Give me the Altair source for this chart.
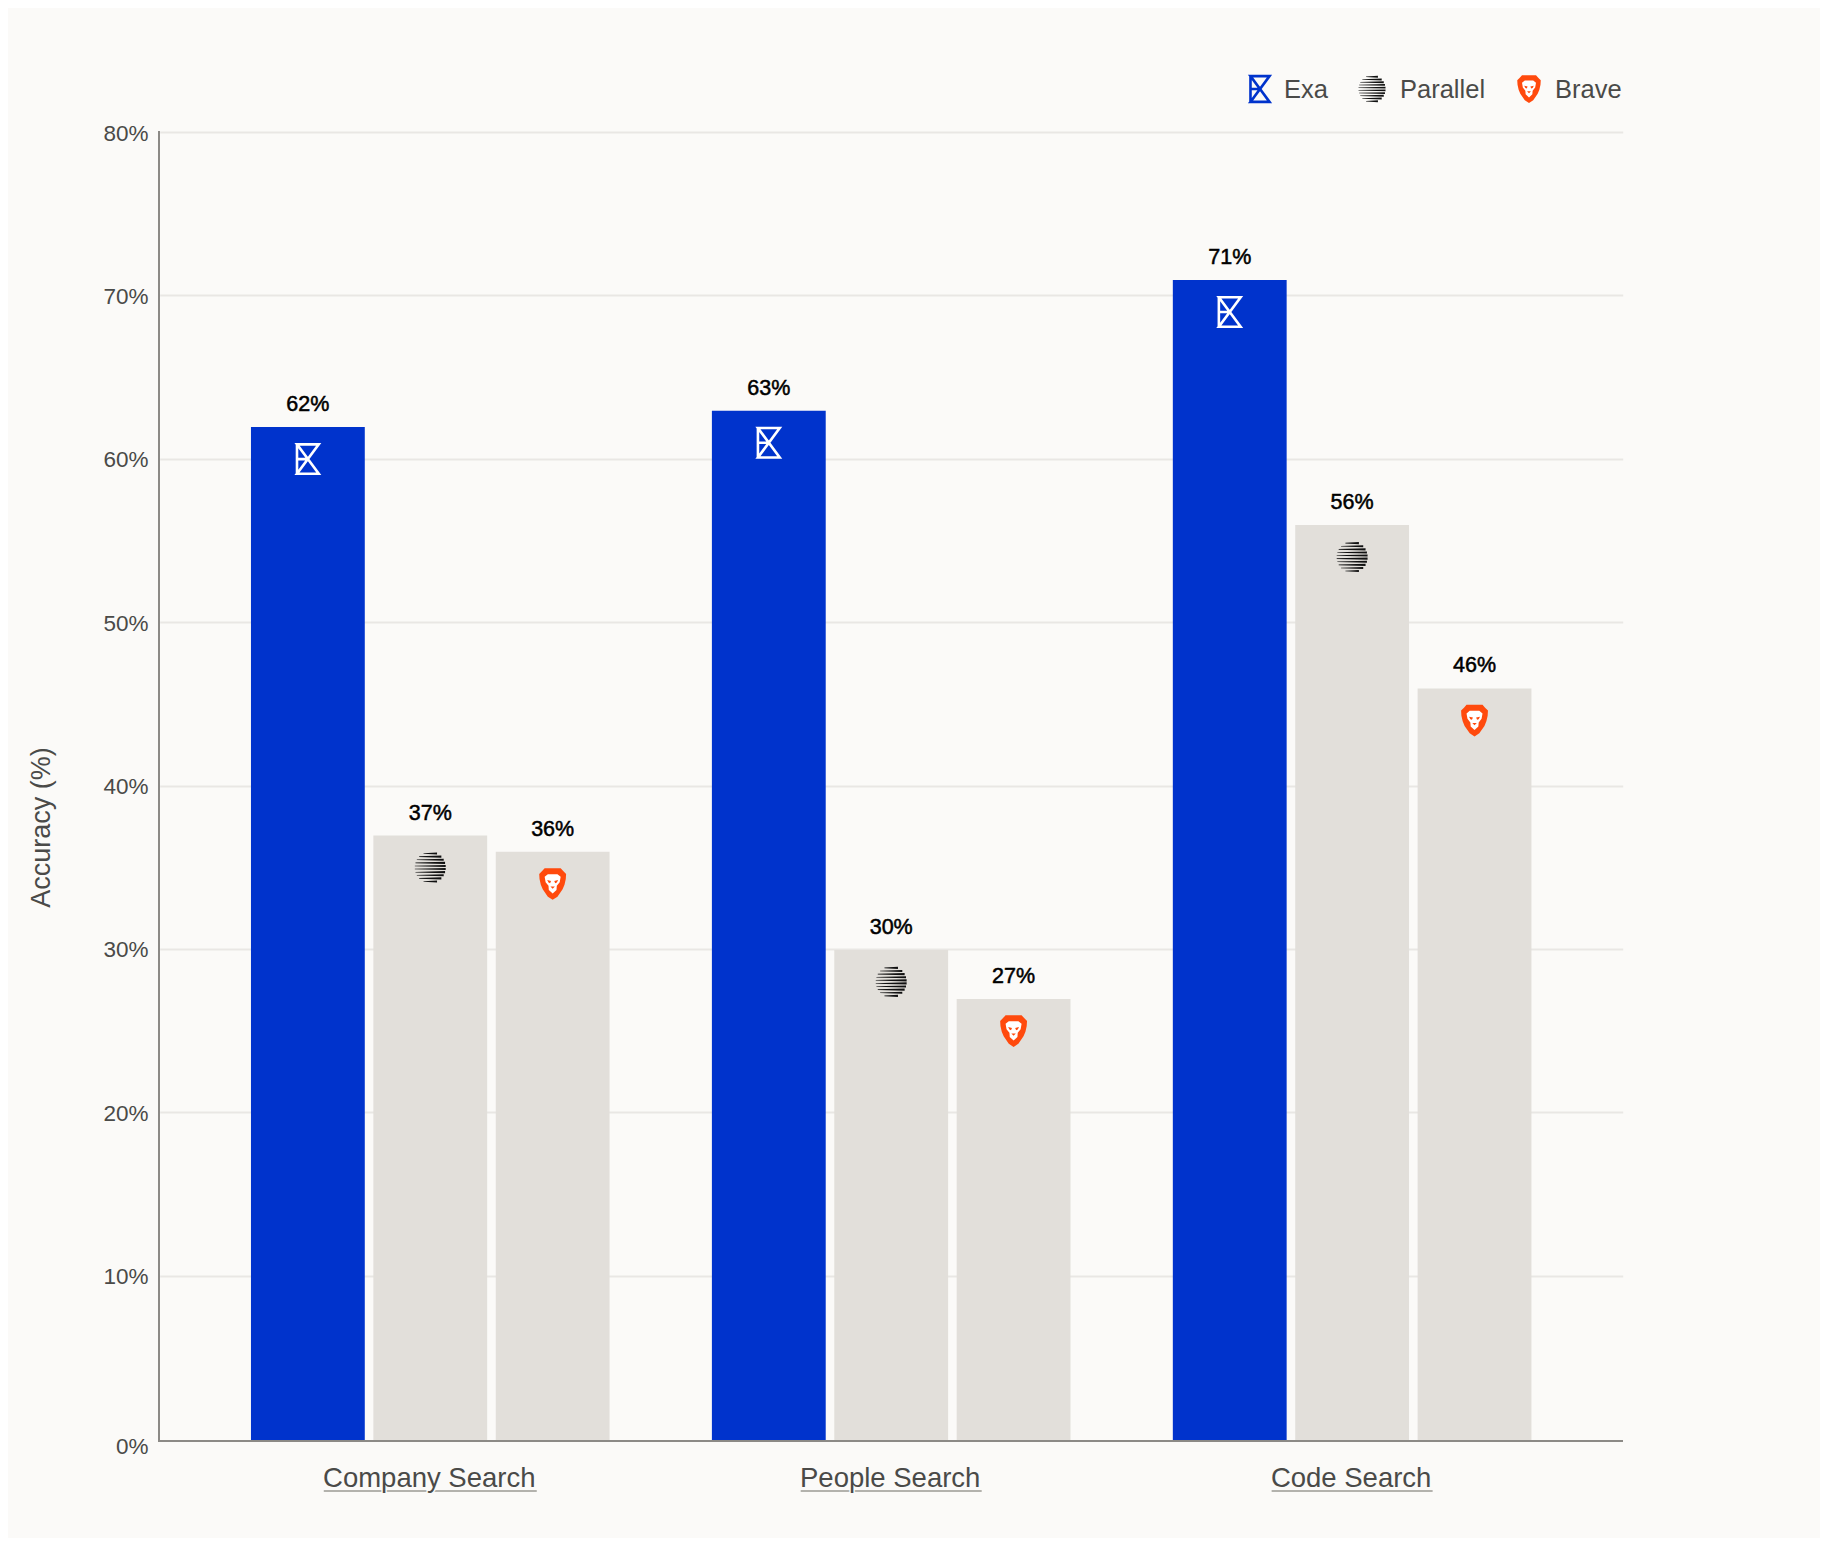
import math
import altair as alt
import pandas as pd

categories = ["Company Search", "People Search", "Code Search"]
series = ["Exa", "Parallel", "Brave"]
exa_values = [62, 63, 71]
parallel_values = [37, 30, 56]
brave_values = [36, 27, 46]
y_ticks = [0, 10, 20, 30, 40, 50, 60, 70, 80]

BG = "#fbfaf8"
BLUE = "#0033cc"
GREY = "#e2dfda"
ORANGE = "#ff4a0d"
TEXT = "#4a4a48"
AXIS = "#8c8a86"
FONT = "Liberation Sans"

W, H = 1463, 1307
AXIS_Y = 1309

rows = []
for i, c in enumerate(categories):
    for s, v in zip(series, (exa_values[i], parallel_values[i], brave_values[i])):
        rows.append({"category": c, "series": s, "value": v, "label": f"{v}%"})
df = pd.DataFrame(rows)
cat_df = pd.DataFrame({"category": categories})
underline_width = {"Company Search": 213, "People Search": 181, "Code Search": 161}
cat_df["uw"] = cat_df["category"].map(underline_width)

x_scale = alt.Scale(domain=categories, paddingInner=0.222, paddingOuter=0.198, range=[0.7, W + 0.7])
off_scale = alt.Scale(domain=series, paddingInner=0.07)
y_scale = alt.Scale(domain=[0, 80], nice=False)

X = alt.X("category:N", scale=x_scale, sort=categories, axis=None)
XO = alt.XOffset("series:N", scale=off_scale, sort=series)
Y = alt.Y("value:Q", scale=y_scale, stack=None,
          axis=alt.Axis(values=y_ticks, title="Accuracy (%)", titleFont=FONT, titleFontSize=27,
                        titleFontWeight="normal", titleColor=TEXT, titleX=-104, titleY=695,
                        labelExpr="datum.value + '%'", labelFont=FONT, labelFontSize=22.5,
                        labelColor=TEXT, labelPadding=11, ticks=False, grid=True,
                        gridColor="#e9e7e4", gridWidth=2, domain=False,
                        gridOpacity=alt.expr("datum.value === 0 ? 0 : 1"),
                        labelOffset=alt.expr("datum.value === 0 ? 7 : 1")))

bars = alt.Chart(df).mark_bar(stroke=None, yOffset=1).encode(
    x=X, xOffset=XO, y=Y, y2=alt.value(AXIS_Y),
    color=alt.Color("series:N", scale=alt.Scale(domain=series, range=[BLUE, GREY, GREY]), legend=None),
)
value_labels = alt.Chart(df).mark_text(font=FONT, fontSize=21.5, color="#000000", stroke="#000000",
                                       strokeWidth=0.5, baseline="middle", dy=-21).encode(
    x=X, xOffset=XO, y=Y, text="label:N")

axis_anchor = pd.DataFrame({"axis": ["x", "y"]})
y_line = alt.Chart(axis_anchor.iloc[[1]]).mark_rule(color=AXIS, strokeWidth=2, strokeCap="square").encode(
    x=alt.value(0), y=alt.value(0), y2=alt.value(AXIS_Y))
x_line = alt.Chart(axis_anchor.iloc[[0]]).mark_rule(color=AXIS, strokeWidth=2, strokeCap="square").encode(
    x=alt.value(0), x2=alt.value(W), y=alt.value(AXIS_Y))

# ---- icon glyphs (unit square paths) ----
EXA_PATH = "M-0.68,-0.92L0.68,-0.92L-0.68,0.92L0.68,0.92L-0.68,-0.92ZM-0.68,-0.92L-0.68,0.92M-0.68,0L0,0"


def parallel_path():
    parts = []
    n = 10
    pitch = 1.94 / n
    for k in range(n):
        yc = -0.97 + pitch * (k + 0.5)
        half = math.sqrt(max(0.0, 0.97 ** 2 - yc ** 2))
        xl, xr = -half, half
        hl, hr = 0.018, pitch * 0.34
        parts.append(f"M{xl:.3f},{yc - hl:.3f}L{xr:.3f},{yc - hr:.3f}L{xr:.3f},{yc + hr:.3f}L{xl:.3f},{yc + hl:.3f}Z")
    return "".join(parts)


PARALLEL_PATH = parallel_path()
BRAVE_SHIELD = ("M-0.5,-0.98L0.5,-0.98L0.66,-0.8L0.84,-0.62L0.82,-0.3L0.74,0.05L0.62,0.34L0.3,0.8L0,1"
                "L-0.3,0.8L-0.62,0.34L-0.74,0.05L-0.82,-0.3L-0.84,-0.62L-0.66,-0.8Z")
BRAVE_FACE = ("M-0.3,-0.6L0.3,-0.6L0.5,-0.44L0.44,-0.1L0.26,0.12L0.24,0.38L0,0.6L-0.24,0.38L-0.26,0.12"
              "L-0.44,-0.1L-0.5,-0.44Z")
BRAVE_CUT = ("M-0.34,-0.24L-0.1,-0.18L-0.16,-0.04L-0.26,-0.08ZM0.34,-0.24L0.1,-0.18L0.16,-0.04L0.26,-0.08Z"
             "M-0.14,0.16L0.14,0.16L0,0.3Z")


def icon(name, data, enc, size, y_off, on_bar):
    common = dict(size=size, opacity=1, yOffset=y_off)
    if name == "Exa":
        c = alt.Chart(data).mark_point(shape=EXA_PATH, filled=False, strokeWidth=2.6,
                                       color="#ffffff" if on_bar else BLUE, **common)
        return [c.encode(**enc)]
    if name == "Parallel":
        c = alt.Chart(data).mark_point(shape=PARALLEL_PATH, filled=True, color="#111111", strokeWidth=0, **common)
        return [c.encode(**enc)]
    out = []
    for p, col in ((BRAVE_SHIELD, ORANGE), (BRAVE_FACE, "#ffffff"), (BRAVE_CUT, ORANGE)):
        c = alt.Chart(data).mark_point(shape=p, filled=True, color=col, strokeWidth=0, **common)
        out.append(c.encode(**enc))
    return out


layers = [bars, value_labels, y_line, x_line]
for s in series:
    layers += icon(s, df[df.series == s], dict(x=X, xOffset=XO, y=Y), 1024, 33, True)

# ---- category labels with underline ----
layers.append(alt.Chart(cat_df).mark_tick(orient="horizontal", thickness=2, color="#b3b2ad", opacity=1).encode(
    x=X, y=alt.value(1359), size=alt.Size("uw:Q", scale=None, legend=None)))
layers.append(alt.Chart(cat_df).mark_text(font=FONT, fontSize=27.5, color=BG, stroke=BG, strokeWidth=3,
                                          baseline="middle", dx=-1).encode(
    x=X, y=alt.value(1347), text="category:N"))
layers.append(alt.Chart(cat_df).mark_text(font=FONT, fontSize=27.5, color=TEXT,
                                          baseline="middle", dx=-1).encode(
    x=X, y=alt.value(1347), text="category:N"))

# ---- legend ----
legend_icon_x = {"Exa": 1101, "Parallel": 1213, "Brave": 1370}
legend_text_x = {"Exa": 1125, "Parallel": 1241, "Brave": 1396}
for s in series:
    d = pd.DataFrame({"series": [s]})
    layers += icon(s, d, dict(x=alt.value(legend_icon_x[s]), y=alt.value(-43)), 784, 0, False)
    layers.append(alt.Chart(d).mark_text(font=FONT, fontSize=25.5, color=TEXT, align="left", baseline="middle").encode(
        x=alt.value(legend_text_x[s]), y=alt.value(-42), text="series:N"))

chart = alt.layer(*layers).resolve_scale(x="shared", y="shared").properties(
    width=W, height=H, background=BG,
    padding={"left": 151, "top": 124, "right": 198, "bottom": 99},
    autosize=alt.AutoSizeParams(type="none", contains="content"),
).configure_view(stroke=None)

chart.save("out.html", embed_options={"renderer": "svg", "actions": False})
